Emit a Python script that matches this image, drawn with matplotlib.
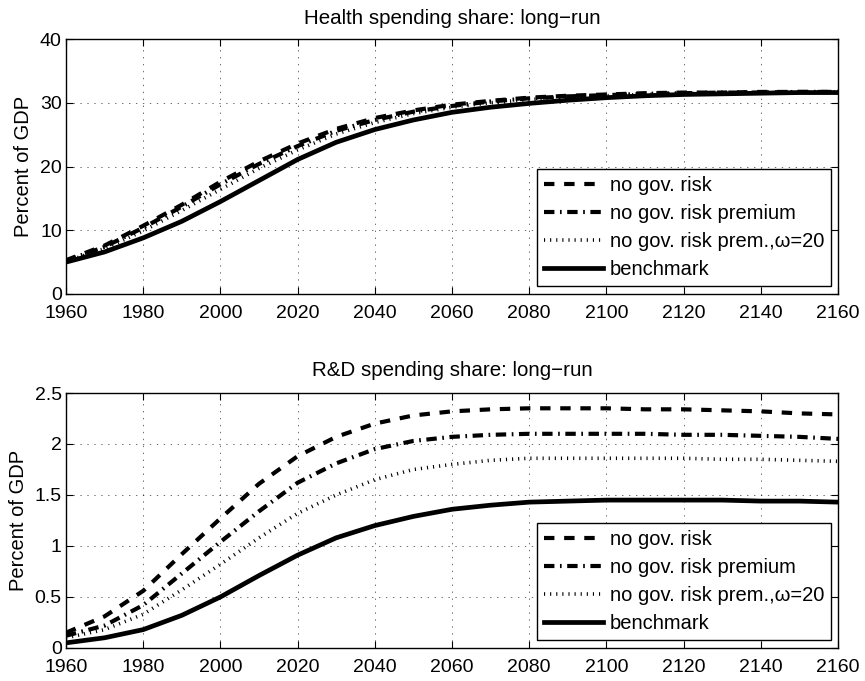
import matplotlib
matplotlib.use("Agg")
import matplotlib.pyplot as plt

plt.rcParams['font.family'] = ['Liberation Sans', 'DejaVu Sans']
plt.rcParams['lines.scale_dashes'] = False
plt.rcParams['axes.unicode_minus'] = True

years = [1960, 1970, 1980, 1990, 2000, 2010, 2020, 2030, 2040, 2050, 2060,
         2070, 2080, 2090, 2100, 2110, 2120, 2130, 2140, 2150, 2160]

# health spending share, percent of GDP
health_no_risk = [5.3, 7.6, 10.7, 14.0, 17.6, 20.8, 23.6, 25.9, 27.6, 28.8, 29.7,
                  30.3, 30.8, 31.1, 31.3, 31.5, 31.6, 31.6, 31.7, 31.7, 31.7]
health_no_prem = [5.2, 7.4, 10.4, 13.7, 17.2, 20.4, 23.2, 25.6, 27.3, 28.6, 29.5,
                  30.2, 30.7, 31.0, 31.2, 31.4, 31.5, 31.6, 31.6, 31.7, 31.7]
health_omega20 = [5.1, 7.1, 9.9, 13.1, 16.4, 19.7, 22.6, 25.1, 26.9, 28.3, 29.3,
                  30.0, 30.5, 30.9, 31.1, 31.3, 31.4, 31.5, 31.6, 31.6, 31.7]
health_bench = [5.0, 6.6, 8.8, 11.4, 14.5, 17.8, 21.1, 23.8, 25.8, 27.3, 28.5,
                29.3, 29.9, 30.4, 30.8, 31.1, 31.3, 31.4, 31.5, 31.6, 31.6]

# R&D spending share, percent of GDP
rd_no_risk = [0.15, 0.31, 0.56, 0.92, 1.27, 1.61, 1.88, 2.07, 2.20, 2.28, 2.32,
              2.34, 2.35, 2.35, 2.35, 2.34, 2.34, 2.33, 2.32, 2.30, 2.29]
rd_no_prem = [0.12, 0.22, 0.42, 0.73, 1.04, 1.34, 1.62, 1.81, 1.95, 2.03, 2.07,
              2.09, 2.10, 2.10, 2.10, 2.10, 2.09, 2.09, 2.08, 2.07, 2.05]
rd_omega20 = [0.10, 0.18, 0.33, 0.57, 0.82, 1.08, 1.32, 1.50, 1.65, 1.75, 1.80,
              1.84, 1.86, 1.86, 1.86, 1.86, 1.86, 1.85, 1.85, 1.84, 1.83]
rd_bench = [0.05, 0.10, 0.18, 0.32, 0.50, 0.71, 0.91, 1.08, 1.20, 1.29, 1.36,
            1.40, 1.43, 1.44, 1.45, 1.45, 1.45, 1.45, 1.44, 1.44, 1.43]

labels = ["no gov. risk", "no gov. risk premium",
          "no gov. risk prem.,\u03c9=20", "benchmark"]
xticks = list(range(1960, 2161, 20))

fig = plt.figure(figsize=(8.65, 6.81), dpi=100)
ax1 = fig.add_axes([0.0763, 0.5683, 0.8925, 0.3744])
ax2 = fig.add_axes([0.0763, 0.0485, 0.8925, 0.3744])


def draw(ax, series, title, yticks, yticklabels, tpad):
    a, b, c, d = series
    ax.plot(years, a, color='k', lw=3.0, dashes=(7.5, 7.0), dash_capstyle='butt', label=labels[0])
    ax.plot(years, b, color='k', lw=3.0, dashes=(7.5, 4.0, 1.2, 4.0), dash_capstyle='butt', label=labels[1])
    ax.plot(years, c, color='k', lw=2.6, dashes=(0.8, 3.6), dash_capstyle='butt', label=labels[2])
    ax.plot(years, d, color='k', lw=3.4, label=labels[3])
    ax.set_xlim(1960, 2160)
    ax.set_ylim(yticks[0], yticks[-1])
    ax.set_xticks(xticks)
    ax.set_yticks(yticks)
    ax.set_yticklabels(yticklabels)
    ax.grid(True, color='k', linestyle=(0, (1, 4)), lw=0.5, alpha=0.8)
    ax.tick_params(direction='in', top=True, right=True, length=5, labelsize=14)
    ax.tick_params(axis='x', pad=8)
    ax.tick_params(axis='y', pad=3)
    for s in ax.spines.values():
        s.set_linewidth(1.0)
    ax.set_title(title, fontsize=14.8, pad=tpad)
    ax.set_ylabel("Percent of GDP", fontsize=14.5, labelpad=5)
    leg = ax.legend(loc='lower right', bbox_to_anchor=(0.991, 0.031), borderaxespad=0,
                    fontsize=14.5, fancybox=False, framealpha=1, edgecolor='k',
                    handlelength=2.9, handletextpad=0.35, labelspacing=0.45,
                    borderpad=0.35)
    leg.get_frame().set_linewidth(1.0)


draw(ax1, [health_no_risk, health_no_prem, health_omega20, health_bench],
     "Health spending share: long\u2212run", [0, 10, 20, 30, 40],
     ["0", "10", "20", "30", "40"], 11)
draw(ax2, [rd_no_risk, rd_no_prem, rd_omega20, rd_bench],
     "R&D spending share: long\u2212run", [0, 0.5, 1, 1.5, 2, 2.5],
     ["0", "0.5", "1", "1.5", "2", "2.5"], 12.5)

fig.savefig("out.png", dpi=100)
